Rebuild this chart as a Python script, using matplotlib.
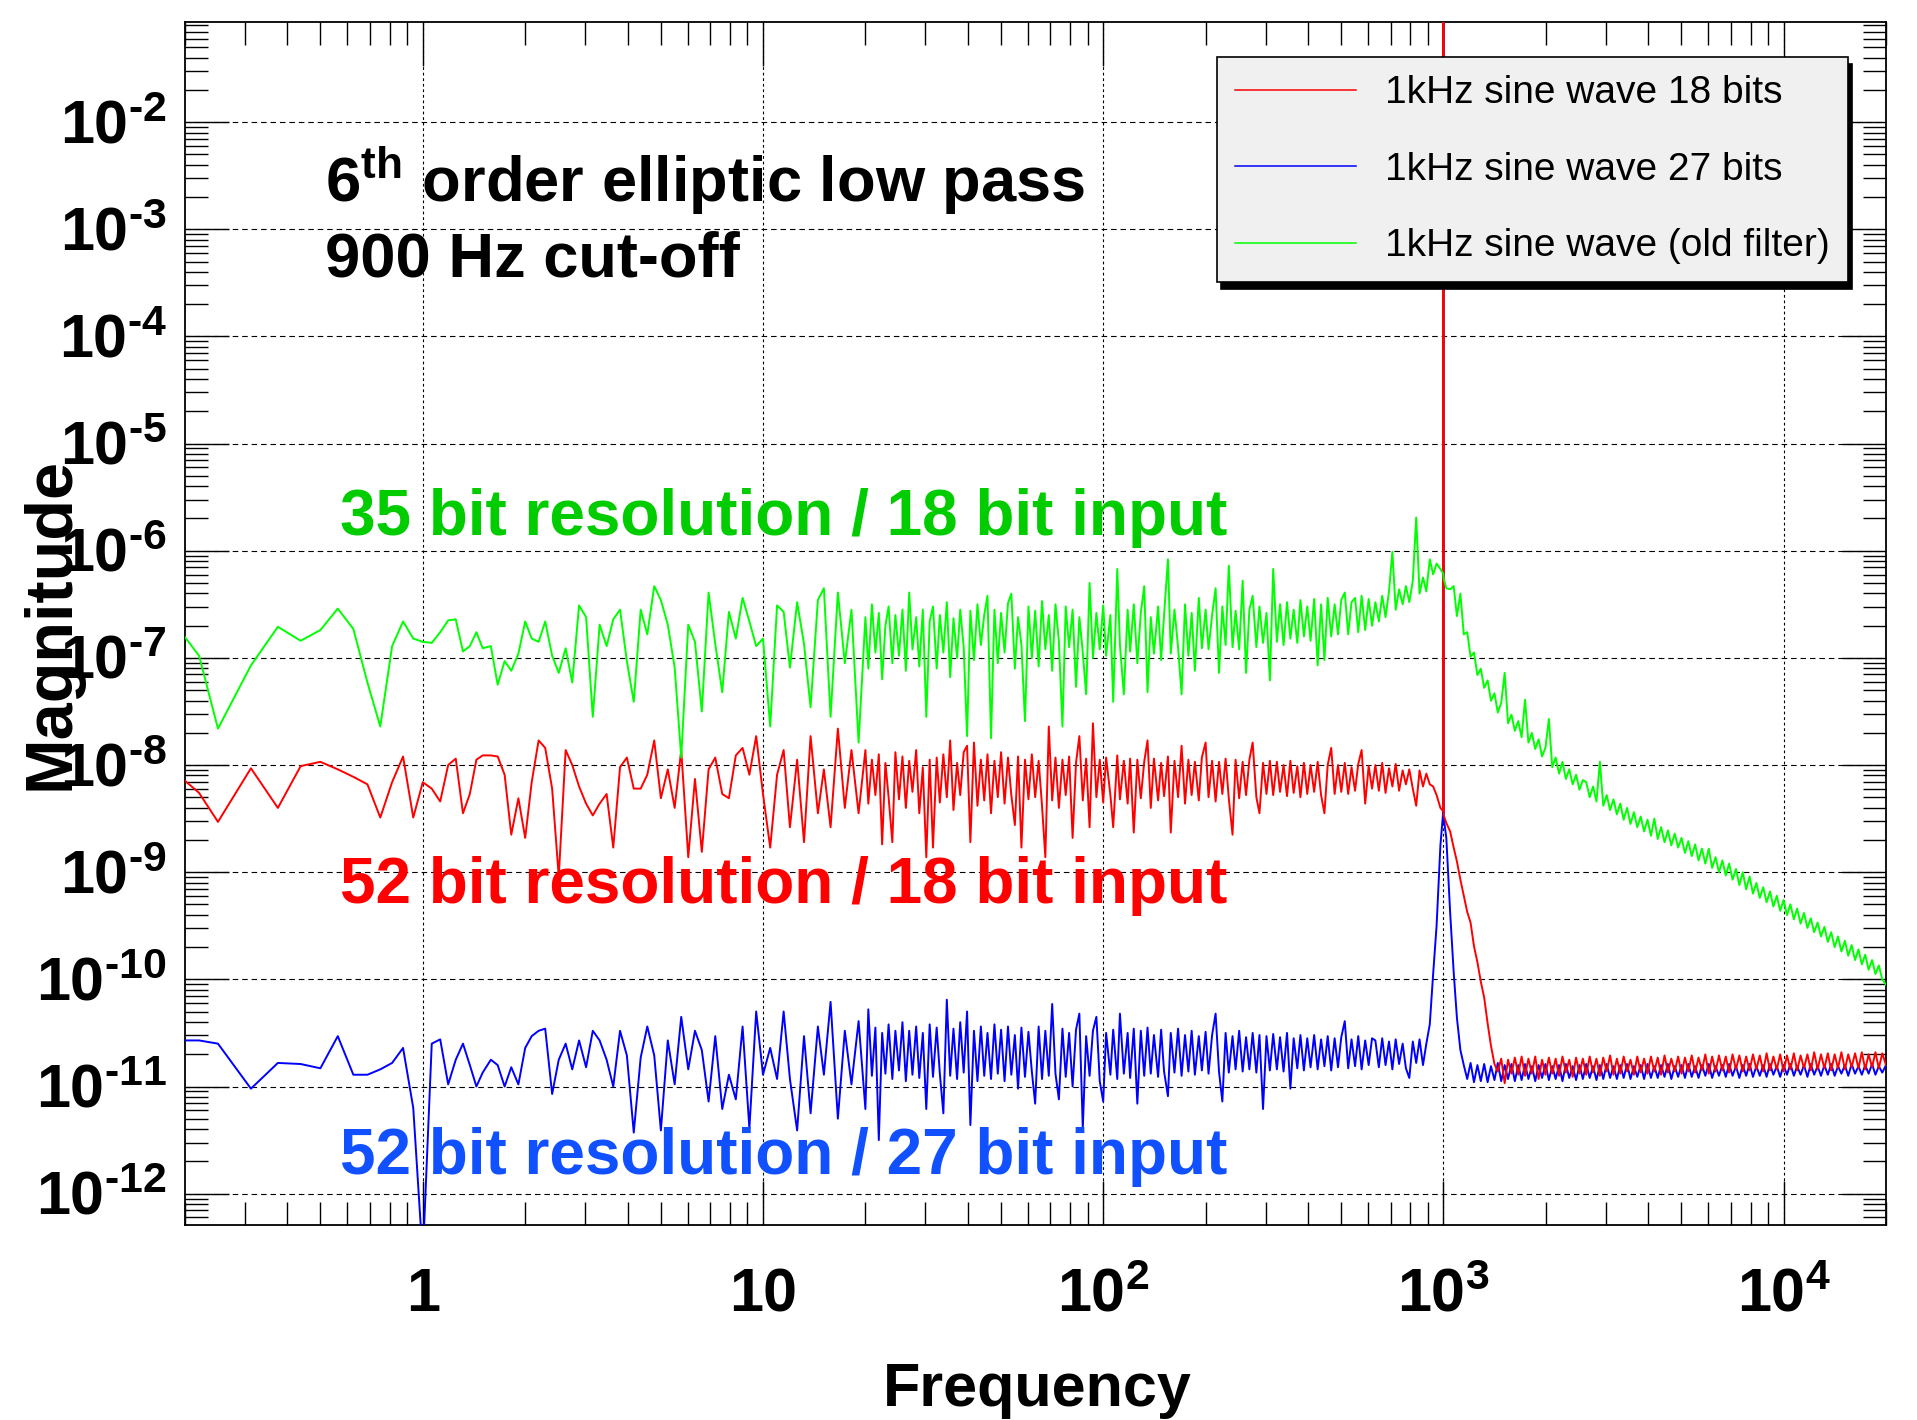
import numpy as np
import matplotlib
matplotlib.use('Agg')
import matplotlib.pyplot as plt
import matplotlib.transforms as mtransforms
from matplotlib.ticker import LogLocator, NullFormatter

plt.rcParams['font.family'] = ['Liberation Sans', 'DejaVu Sans']
plt.rcParams['mathtext.fontset'] = 'custom'
plt.rcParams['mathtext.rm'] = 'Liberation Sans:bold'
plt.rcParams['mathtext.it'] = 'Liberation Sans:bold'
plt.rcParams['mathtext.bf'] = 'Liberation Sans:bold'
plt.rcParams['mathtext.sf'] = 'Liberation Sans:bold'

# frequency points (Hz)
freq_hz = [
    # 0.19 - 1.5 Hz
    0.1875, 0.22, 0.25, 0.3125, 0.375, 0.4375, 0.5, 0.5625, 0.625, 0.6875, 0.75, 0.8125,
    0.875, 0.9375, 1.0, 1.0625, 1.125, 1.1875, 1.25, 1.3125, 1.375, 1.4375, 1.5,
    # 1.6 - 11 Hz
    1.585, 1.66, 1.74, 1.82, 1.91, 2.0, 2.09, 2.19, 2.29, 2.4,
    2.51, 2.63, 2.75, 2.88, 3.02, 3.16, 3.31, 3.47, 3.63, 3.8,
    3.98, 4.17, 4.37, 4.57, 4.79, 5.01, 5.25, 5.5, 5.75, 6.03,
    6.31, 6.61, 6.92, 7.24, 7.59, 7.94, 8.32, 8.71, 9.12, 9.55,
    10.0, 10.5, 11.0,
    # 11.5 - 19 Hz
    11.5, 12.0, 12.6, 13.2, 13.8, 14.5, 15.1, 15.8, 16.6, 17.4, 18.2, 19.1,
    # 20 - 955 Hz
    20.0, 20.4, 20.9, 21.4, 21.9, 22.4, 22.9, 23.4, 24.0, 24.5,
    25.1, 25.7, 26.3, 26.9, 27.5, 28.2, 28.8, 29.5, 30.2, 30.9,
    31.6, 32.4, 33.1, 33.9, 34.7, 35.5, 36.3, 37.2, 38.0, 38.9,
    39.8, 40.7, 41.7, 42.7, 43.7, 44.7, 45.7, 46.8, 47.9, 49.0,
    50.1, 51.3, 52.5, 53.7, 55.0, 56.2, 57.5, 58.9, 60.3, 61.7,
    63.1, 64.6, 66.1, 67.6, 69.2, 70.8, 72.4, 74.1, 75.9, 77.6,
    79.4, 81.3, 83.2, 85.1, 87.1, 89.1, 91.2, 93.3, 95.5, 97.7,
    100, 102, 105, 107, 110, 112, 115, 118, 120, 123,
    126, 129, 132, 135, 138, 141, 145, 148, 151, 155,
    158, 162, 166, 170, 174, 178, 182, 186, 191, 195,
    200, 204, 209, 214, 219, 224, 229, 234, 240, 245,
    251, 257, 263, 269, 275, 282, 288, 295, 302, 309,
    316, 324, 331, 339, 347, 355, 363, 372, 380, 389,
    398, 407, 417, 427, 437, 447, 457, 468, 479, 490,
    501, 513, 525, 537, 550, 562, 575, 589, 603, 617,
    631, 646, 661, 676, 692, 708, 724, 741, 759, 776,
    794, 813, 832, 851, 871, 891, 912, 933, 955,
    # the 1 kHz line
    980, 998, 1000, 1002, 1020,
    # 1.05 - 20 kHz
    1047, 1072, 1096, 1122, 1148, 1175, 1202, 1230, 1259, 1288,
    1318, 1349, 1380, 1413, 1445, 1479, 1514, 1549, 1585, 1622,
    1660, 1698, 1738, 1778, 1820, 1862, 1905, 1950, 1995, 2042,
    2089, 2138, 2188, 2239, 2291, 2344, 2399, 2455, 2512, 2570,
    2630, 2692, 2754, 2818, 2884, 2951, 3020, 3090, 3162, 3236,
    3311, 3388, 3467, 3548, 3631, 3715, 3802, 3890, 3981, 4074,
    4169, 4266, 4365, 4467, 4571, 4677, 4786, 4898, 5012, 5129,
    5248, 5370, 5495, 5623, 5754, 5888, 6026, 6166, 6310, 6457,
    6607, 6761, 6918, 7079, 7244, 7413, 7586, 7762, 7943, 8128,
    8318, 8511, 8710, 8913, 9120, 9333, 9550, 9772, 10000, 10230,
    10470, 10720, 10960, 11220, 11480, 11750, 12020, 12300, 12590, 12880,
    13180, 13490, 13800, 14130, 14450, 14790, 15140, 15490, 15850, 16220,
    16600, 16980, 17380, 17780, 18200, 18620, 19050, 19500, 20000,
]

# log10 of the magnitude, 1kHz sine wave 18 bits
red_log10 = [
    -8.07, -8.26, -8.53, -8.03, -8.40, -8.01, -7.97, -8.04, -8.11, -8.18, -8.49, -8.16,
    -7.92, -8.49, -8.16, -8.22, -8.34, -8.00, -7.94, -8.45, -8.27, -7.95, -7.91,
    -7.91, -7.92, -8.09, -8.65, -8.31, -8.68, -8.16, -7.77, -7.84, -8.22,
    -9.04, -7.86, -8.00, -8.20, -8.36, -8.47, -8.36, -8.27, -8.77, -8.02,
    -7.93, -8.22, -8.22, -8.09, -7.77, -8.31, -8.04, -8.40, -7.86, -8.86,
    -8.13, -8.81, -8.04, -7.93, -8.27, -8.31, -7.91, -7.84, -8.09, -7.73,
    -8.27, -8.77, -8.09,
    -7.86, -8.58, -7.95, -8.72, -7.73, -8.45, -8.04, -8.58, -7.66, -8.40, -7.86, -8.45,
    -7.86, -8.36, -7.95, -8.28, -7.90, -8.74, -7.98, -8.30, -8.72, -7.88,
    -8.32, -7.92, -8.40, -7.96, -8.25, -7.86, -8.45, -8.02, -8.86, -7.95,
    -8.77, -7.93, -8.35, -7.90, -8.30, -7.77, -8.42, -7.98, -8.28, -7.88,
    -7.82, -8.72, -7.79, -8.38, -7.95, -8.33, -7.90, -8.45, -7.96, -8.30,
    -7.88, -8.36, -7.93, -8.28, -8.56, -7.92, -8.77, -7.95, -8.32, -7.90,
    -8.30, -7.96, -8.38, -8.86, -7.64, -8.33, -7.93, -8.40, -7.95, -8.28,
    -7.92, -8.68, -7.98, -7.73, -8.33, -7.94, -8.58, -7.61, -8.30, -7.95,
    -8.35, -7.93, -8.28, -8.58, -7.91, -8.32, -7.96, -8.36, -7.94, -8.63,
    -7.95, -8.31, -7.97, -7.77, -8.40, -7.94, -8.33, -7.98, -8.29, -7.92,
    -8.63, -7.96, -8.30, -7.82, -8.36, -7.95, -8.28, -7.97, -8.33, -7.93,
    -7.79, -8.30, -7.96, -8.34, -7.97, -8.27, -7.94, -8.31, -8.65, -7.95,
    -8.31, -7.97, -8.28, -7.95, -7.79, -8.30, -8.45, -7.98, -8.27, -7.96,
    -8.28, -7.97, -8.25, -8.00, -8.29, -7.96, -8.26, -8.01, -8.30, -7.98,
    -8.27, -8.00, -8.25, -7.97, -8.28, -8.45, -8.00, -7.84, -8.27, -8.00,
    -8.25, -7.98, -8.27, -8.02, -8.24, -7.99, -7.86, -8.36, -8.01, -8.22,
    -8.00, -8.24, -7.98, -8.26, -8.03, -8.20, -7.99, -8.24, -8.05, -8.18,
    -8.04, -8.22, -8.38, -8.05, -8.20, -8.08, -8.18, -8.20, -8.28,
    -8.40, -8.43, 0.0, -8.47, -8.54,
    -8.62, -8.77, -8.90, -9.07, -9.22, -9.37, -9.47, -9.69, -9.84, -10.02,
    -10.17, -10.41, -10.62, -10.79, -10.86, -10.74, -10.97, -10.75, -10.88, -10.73,
    -10.89, -10.72, -10.90, -10.74, -10.88, -10.72, -10.93, -10.75, -10.89, -10.73,
    -10.88, -10.74, -10.90, -10.72, -10.87, -10.75, -10.91, -10.73, -10.88, -10.74,
    -10.89, -10.72, -10.87, -10.74, -10.90, -10.73, -10.86, -10.71, -10.89, -10.74,
    -10.88, -10.72, -10.86, -10.75, -10.89, -10.72, -10.87, -10.74, -10.88, -10.72,
    -10.86, -10.73, -10.89, -10.71, -10.87, -10.74, -10.86, -10.72, -10.88, -10.73,
    -10.86, -10.71, -10.87, -10.73, -10.85, -10.70, -10.88, -10.72, -10.86, -10.71,
    -10.85, -10.72, -10.87, -10.70, -10.84, -10.71, -10.86, -10.72, -10.85, -10.70,
    -10.84, -10.71, -10.86, -10.69, -10.85, -10.72, -10.84, -10.70, -10.86, -10.71,
    -10.84, -10.69, -10.85, -10.71, -10.83, -10.70, -10.85, -10.68, -10.84, -10.70,
    -10.83, -10.69, -10.85, -10.70, -10.83, -10.68, -10.84, -10.70, -10.82, -10.69,
    -10.83, -10.68, -10.84, -10.70, -10.82, -10.68, -10.83, -10.69, -10.80,
]

# log10 of the magnitude, 1kHz sine wave 27 bits
blue_log10 = [
    -10.57, -10.57, -10.60, -11.02, -10.78, -10.79, -10.83, -10.53, -10.89, -10.89, -10.84,
    -10.78, -10.64, -11.20, -12.6, -10.60, -10.56, -10.98, -10.75, -10.60, -10.80, -11.00,
    -10.87,
    -10.75, -10.80, -11.00, -10.82, -10.98, -10.64, -10.53, -10.48, -10.46, -11.07,
    -10.75, -10.60, -10.84, -10.57, -10.82, -10.48, -10.57, -10.75, -11.00, -10.48,
    -10.71, -11.43, -10.73, -10.44, -10.71, -11.41, -10.57, -10.98, -10.35, -10.84,
    -10.48, -10.66, -11.14, -10.53, -11.21, -10.89, -11.12, -10.44, -11.39, -10.30,
    -10.89, -10.64, -10.93,
    -10.30, -10.93, -11.41, -10.53, -11.25, -10.44, -10.89, -10.21, -11.30, -10.48, -10.98,
    -10.39,
    -11.21, -10.28, -10.90, -10.45, -11.50, -10.50, -10.88, -10.42, -10.93, -10.48,
    -10.85, -10.40, -10.95, -10.48, -10.89, -10.44, -10.92, -10.50, -11.21, -10.42,
    -10.91, -10.45, -10.88, -11.25, -10.19, -10.90, -10.46, -10.93, -10.40, -10.87,
    -10.30, -11.36, -10.48, -10.95, -10.44, -10.90, -10.50, -10.93, -10.42, -10.88,
    -10.47, -10.95, -10.44, -10.89, -10.52, -11.02, -10.45, -10.91, -10.49, -10.86,
    -11.16, -10.44, -10.93, -10.48, -10.90, -10.23, -10.88, -11.12, -10.46, -10.91,
    -10.50, -11.00, -10.47, -10.32, -11.39, -10.53, -10.90, -10.48, -10.35, -10.95,
    -11.14, -10.50, -10.89, -10.47, -10.93, -10.32, -10.88, -10.50, -10.92, -10.46,
    -11.16, -10.48, -10.90, -10.45, -10.88, -10.52, -10.91, -10.47, -10.86, -11.09,
    -10.50, -10.87, -10.46, -10.90, -10.52, -10.86, -10.48, -10.89, -10.53, -10.85,
    -10.49, -10.88, -10.52, -10.32, -10.86, -11.14, -10.50, -10.87, -10.53, -10.84,
    -10.48, -10.86, -10.54, -10.84, -10.50, -10.87, -10.52, -11.21, -10.53, -10.85,
    -10.51, -10.84, -10.54, -10.86, -10.50, -11.02, -10.55, -10.83, -10.52, -10.85,
    -10.55, -10.82, -10.52, -10.84, -10.56, -10.81, -10.53, -10.85, -10.55, -10.82,
    -10.54, -10.39, -10.83, -10.56, -10.81, -10.53, -10.84, -10.57, -10.80, -10.55,
    -10.57, -10.82, -10.55, -10.80, -10.58, -10.84, -10.56, -10.79, -10.60, -10.83,
    -10.92, -10.58, -10.78, -10.56, -10.80, -10.60, -10.42, -9.95, -9.50,
    -8.75, -8.45, 0.0, -8.49, -8.68,
    -9.38, -9.93, -10.36, -10.66, -10.80, -10.93, -10.78, -10.96, -10.80, -10.95,
    -10.79, -10.96, -10.81, -10.94, -10.78, -10.95, -10.80, -10.93, -10.79, -10.95,
    -10.80, -10.94, -10.79, -10.93, -10.81, -10.95, -10.80, -10.92, -10.79, -10.94,
    -10.81, -10.93, -10.80, -10.95, -10.79, -10.92, -10.81, -10.94, -10.80, -10.93,
    -10.79, -10.92, -10.81, -10.94, -10.80, -10.93, -10.79, -10.92, -10.81, -10.93,
    -10.80, -10.92, -10.79, -10.93, -10.81, -10.91, -10.80, -10.93, -10.79, -10.92,
    -10.81, -10.92, -10.80, -10.91, -10.79, -10.93, -10.81, -10.91, -10.80, -10.92,
    -10.79, -10.91, -10.81, -10.92, -10.80, -10.90, -10.79, -10.92, -10.81, -10.90,
    -10.80, -10.91, -10.79, -10.90, -10.81, -10.92, -10.80, -10.90, -10.79, -10.91,
    -10.81, -10.90, -10.80, -10.91, -10.79, -10.89, -10.81, -10.91, -10.80, -10.89,
    -10.79, -10.90, -10.81, -10.89, -10.80, -10.91, -10.79, -10.89, -10.81, -10.90,
    -10.80, -10.89, -10.79, -10.90, -10.81, -10.88, -10.80, -10.90, -10.79, -10.88,
    -10.81, -10.89, -10.80, -10.88, -10.79, -10.89, -10.81, -10.87, -10.80,
]

# log10 of the magnitude, 1kHz sine wave (old filter)
green_log10 = [
    -6.69, -6.98, -7.66, -7.07, -6.71, -6.84, -6.74, -6.54, -6.73, -7.23, -7.64, -6.89,
    -6.66, -6.82, -6.85, -6.86, -6.76, -6.65, -6.64, -6.94, -6.89, -6.76, -6.91,
    -6.89, -7.25, -7.03, -7.12, -6.96, -6.66, -6.82, -6.85, -6.66, -6.98,
    -7.14, -6.91, -7.23, -6.51, -6.62, -7.55, -6.69, -6.89, -6.64, -6.55,
    -7.03, -7.41, -6.55, -6.78, -6.33, -6.46, -6.69, -7.09, -7.93, -6.69,
    -6.85, -7.50, -6.39, -6.87, -7.32, -6.57, -6.82, -6.44, -6.66, -6.89,
    -6.82, -7.64, -6.51,
    -6.57, -7.09, -6.48, -6.87, -7.46, -6.46, -6.35, -7.55, -6.39, -7.05, -6.55, -7.79,
    -6.62, -7.10, -6.50, -6.95, -6.58, -7.20, -6.70, -6.52, -7.05, -6.60,
    -6.98, -6.55, -7.12, -6.39, -6.92, -6.62, -7.08, -6.55, -7.55, -6.66,
    -6.52, -7.10, -6.60, -6.95, -6.48, -7.18, -6.63, -7.00, -6.55, -6.90,
    -7.73, -6.56, -7.02, -6.50, -6.88, -6.60, -6.42, -7.75, -6.55, -7.05,
    -6.58, -6.95, -6.49, -6.40, -7.10, -6.62, -6.88, -7.59, -6.52, -7.00,
    -6.56, -7.08, -6.47, -6.92, -6.60, -7.12, -6.50, -6.85, -7.64, -6.52,
    -6.90, -6.55, -7.27, -6.62, -6.95, -7.34, -6.30, -7.00, -6.58, -6.92,
    -6.51, -6.98, -6.60, -7.41, -6.17, -6.88, -7.34, -6.55, -6.94, -6.50,
    -7.05, -6.58, -6.33, -7.32, -6.62, -6.96, -6.52, -7.02, -6.60, -6.08,
    -6.96, -6.55, -6.90, -7.34, -6.50, -6.98, -6.58, -7.12, -6.44, -6.91,
    -6.55, -6.92, -6.60, -6.35, -7.14, -6.52, -6.88, -6.14, -6.90, -6.56,
    -6.92, -6.28, -7.14, -6.55, -6.42, -6.90, -6.52, -6.86, -6.58, -7.21,
    -6.17, -6.85, -6.50, -6.88, -6.48, -6.82, -6.55, -6.86, -6.46, -6.80,
    -6.52, -6.84, -6.45, -7.07, -6.50, -7.02, -6.44, -6.80, -6.50, -6.78,
    -6.46, -6.39, -6.78, -6.48, -6.44, -6.76, -6.42, -6.74, -6.45, -6.70,
    -6.48, -6.66, -6.42, -6.62, -6.38, -6.01, -6.55, -6.36, -6.50, -6.33,
    -6.48, -6.28, -5.69, -6.40, -6.25, -6.38, -6.08, -6.22, -6.12,
    -6.17, -6.21, -6.23, -6.26, -6.35,
    -6.36, -6.33, -6.61, -6.40, -6.78, -6.76, -6.99, -6.95, -7.16, -7.10,
    -7.28, -7.21, -7.40, -7.33, -7.51, -7.42, -7.14, -7.61, -7.53, -7.68,
    -7.59, -7.74, -7.39, -7.79, -7.70, -7.85, -7.76, -7.92, -7.84, -7.57,
    -8.02, -7.93, -8.08, -7.97, -8.13, -8.04, -8.18, -8.09, -8.23, -8.14,
    -8.16, -8.30, -8.20, -8.34, -7.97, -8.38, -8.28, -8.42, -8.32, -8.46,
    -8.36, -8.51, -8.40, -8.55, -8.44, -8.58, -8.48, -8.62, -8.51, -8.66,
    -8.50, -8.69, -8.58, -8.72, -8.61, -8.75, -8.64, -8.77, -8.68, -8.82,
    -8.71, -8.85, -8.74, -8.89, -8.78, -8.92, -8.78, -8.96, -8.86, -9.00,
    -8.89, -9.03, -8.92, -9.07, -8.97, -9.12, -9.00, -9.16, -9.04, -9.20,
    -9.10, -9.24, -9.14, -9.28, -9.18, -9.32, -9.22, -9.36, -9.26, -9.40,
    -9.30, -9.44, -9.34, -9.48, -9.38, -9.52, -9.43, -9.56, -9.47, -9.60,
    -9.51, -9.65, -9.56, -9.70, -9.60, -9.74, -9.64, -9.78, -9.68, -9.82,
    -9.72, -9.86, -9.77, -9.91, -9.82, -9.95, -9.87, -10.00, -10.05,
]

series_labels = ['1kHz sine wave 18 bits', '1kHz sine wave 27 bits', '1kHz sine wave (old filter)']
x_ticks = [1, 10, 100, 1000, 10000]
x_tick_labels = ['1', '10', r'$10^{2}$', r'$10^{3}$', r'$10^{4}$']
y_ticks = [1e-12, 1e-11, 1e-10, 1e-9, 1e-8, 1e-7, 1e-6, 1e-5, 1e-4, 1e-3, 1e-2]
y_tick_labels = ['$10^{\u2010%d}$' % k for k in range(12, 1, -1)]

assert len(freq_hz) == len(red_log10) == len(blue_log10) == len(green_log10), (
    len(freq_hz), len(red_log10), len(blue_log10), len(green_log10))

fig = plt.figure(figsize=(19.17, 14.20), dpi=100)
ax = fig.add_axes([185 / 1917, 1 - 1225 / 1420, 1701 / 1917, 1203 / 1420])

f = np.array(freq_hz)
blue_line, = ax.plot(f, 10 ** np.array(blue_log10), color='#0000ff', lw=1.4, zorder=3)
red_line, = ax.plot(f, 10 ** np.array(red_log10), color='#ff0000', lw=1.4, zorder=4)
green_line, = ax.plot(f, 10 ** np.array(green_log10), color='#00ff00', lw=1.4, zorder=5)

ax.set_xscale('log')
ax.set_yscale('log')
ax.set_xlim(0.2, 2e4)
ax.set_ylim(5.1e-13, 8.6e-2)

ax.set_xticks(x_ticks)
ax.set_xticklabels(x_tick_labels, fontsize=44, fontweight='bold')
ax.set_yticks(y_ticks)
ax.set_yticklabels(y_tick_labels, fontsize=44, fontweight='bold')
ax.xaxis.set_minor_locator(LogLocator(base=10, subs=np.arange(2, 10), numticks=100))
ax.yaxis.set_minor_locator(LogLocator(base=10, subs=np.arange(2, 10), numticks=100))
ax.xaxis.set_minor_formatter(NullFormatter())
ax.yaxis.set_minor_formatter(NullFormatter())

ax.tick_params(which='both', direction='in', top=True, right=True, width=1.0, color='black')
ax.tick_params(which='major', length=32)
ax.tick_params(which='minor', length=16.5)
ax.tick_params(axis='x', which='major', pad=62)
ax.tick_params(axis='y', which='major', pad=13)
for t in ax.get_xticklabels():
    t.set_va('baseline')
shift = mtransforms.ScaledTranslation(0, -0.21, fig.dpi_scale_trans)
for t in ax.get_yticklabels():
    t.set_va('baseline')
    t.set_transform(t.get_transform() + shift)

for s in ax.spines.values():
    s.set_linewidth(1.3)
    s.set_color('black')

ax.grid(True, which='major', axis='y', color='black', lw=0.8, linestyle=(0, (5, 3.5)))
ax.grid(True, which='major', axis='x', color='black', lw=0.8, linestyle=(0, (2.5, 2.5)))
ax.set_axisbelow(True)

ax.set_xlabel('Frequency', fontsize=44, fontweight='bold')
ax.xaxis.set_label_coords(0.501, -0.1505)
ax.xaxis.label.set_va('baseline')
ax.set_ylabel('Magnitude', fontsize=48, fontweight='bold')
ax.yaxis.set_label_coords(-0.0682, 0.5)
ax.yaxis.label.set_va('baseline')
ax.yaxis.label.set_zorder(10)

ax.text(0.0823, 0.8506, r'6$^{th}$ order elliptic low pass', transform=ax.transAxes,
        fontsize=45.5, fontweight='bold', va='baseline', color='black')
ax.text(0.0823, 0.7883, '900 Hz cut-off', transform=ax.transAxes,
        fontsize=45.5, fontweight='bold', va='baseline', color='black')
ax.text(0.0911, 0.5736, '35 bit resolution / 18 bit input', transform=ax.transAxes,
        fontsize=46, fontweight='bold', va='baseline', color='#00cc00', zorder=6)
ax.text(0.0911, 0.2677, '52 bit resolution / 18 bit input', transform=ax.transAxes,
        fontsize=46, fontweight='bold', va='baseline', color='#ff0000', zorder=6)
ax.text(0.0911, 0.0424, '52 bit resolution / 27 bit input', transform=ax.transAxes,
        fontsize=46, fontweight='bold', va='baseline', color='#1050ff', zorder=6)

leg = ax.legend([red_line, blue_line, green_line], series_labels,
                loc='upper right', bbox_to_anchor=(1848 / 1917, 1 - 57 / 1420),
                bbox_transform=fig.transFigure, borderaxespad=0, fontsize=28,
                frameon=True, fancybox=False, framealpha=1, facecolor='#f0f0f0',
                edgecolor='black', handlelength=3.1, handletextpad=0.75,
                borderpad=0.47, labelspacing=1.04,
                shadow={'ox': 3.2, 'oy': -4.8, 'facecolor': 'black',
                        'edgecolor': 'black', 'alpha': 1.0})
leg.get_frame().set_linewidth(1.2)
for line in leg.get_lines():
    line.set_linewidth(1.1)
leg.set_zorder(20)

fig.savefig('out.png', dpi=100)
